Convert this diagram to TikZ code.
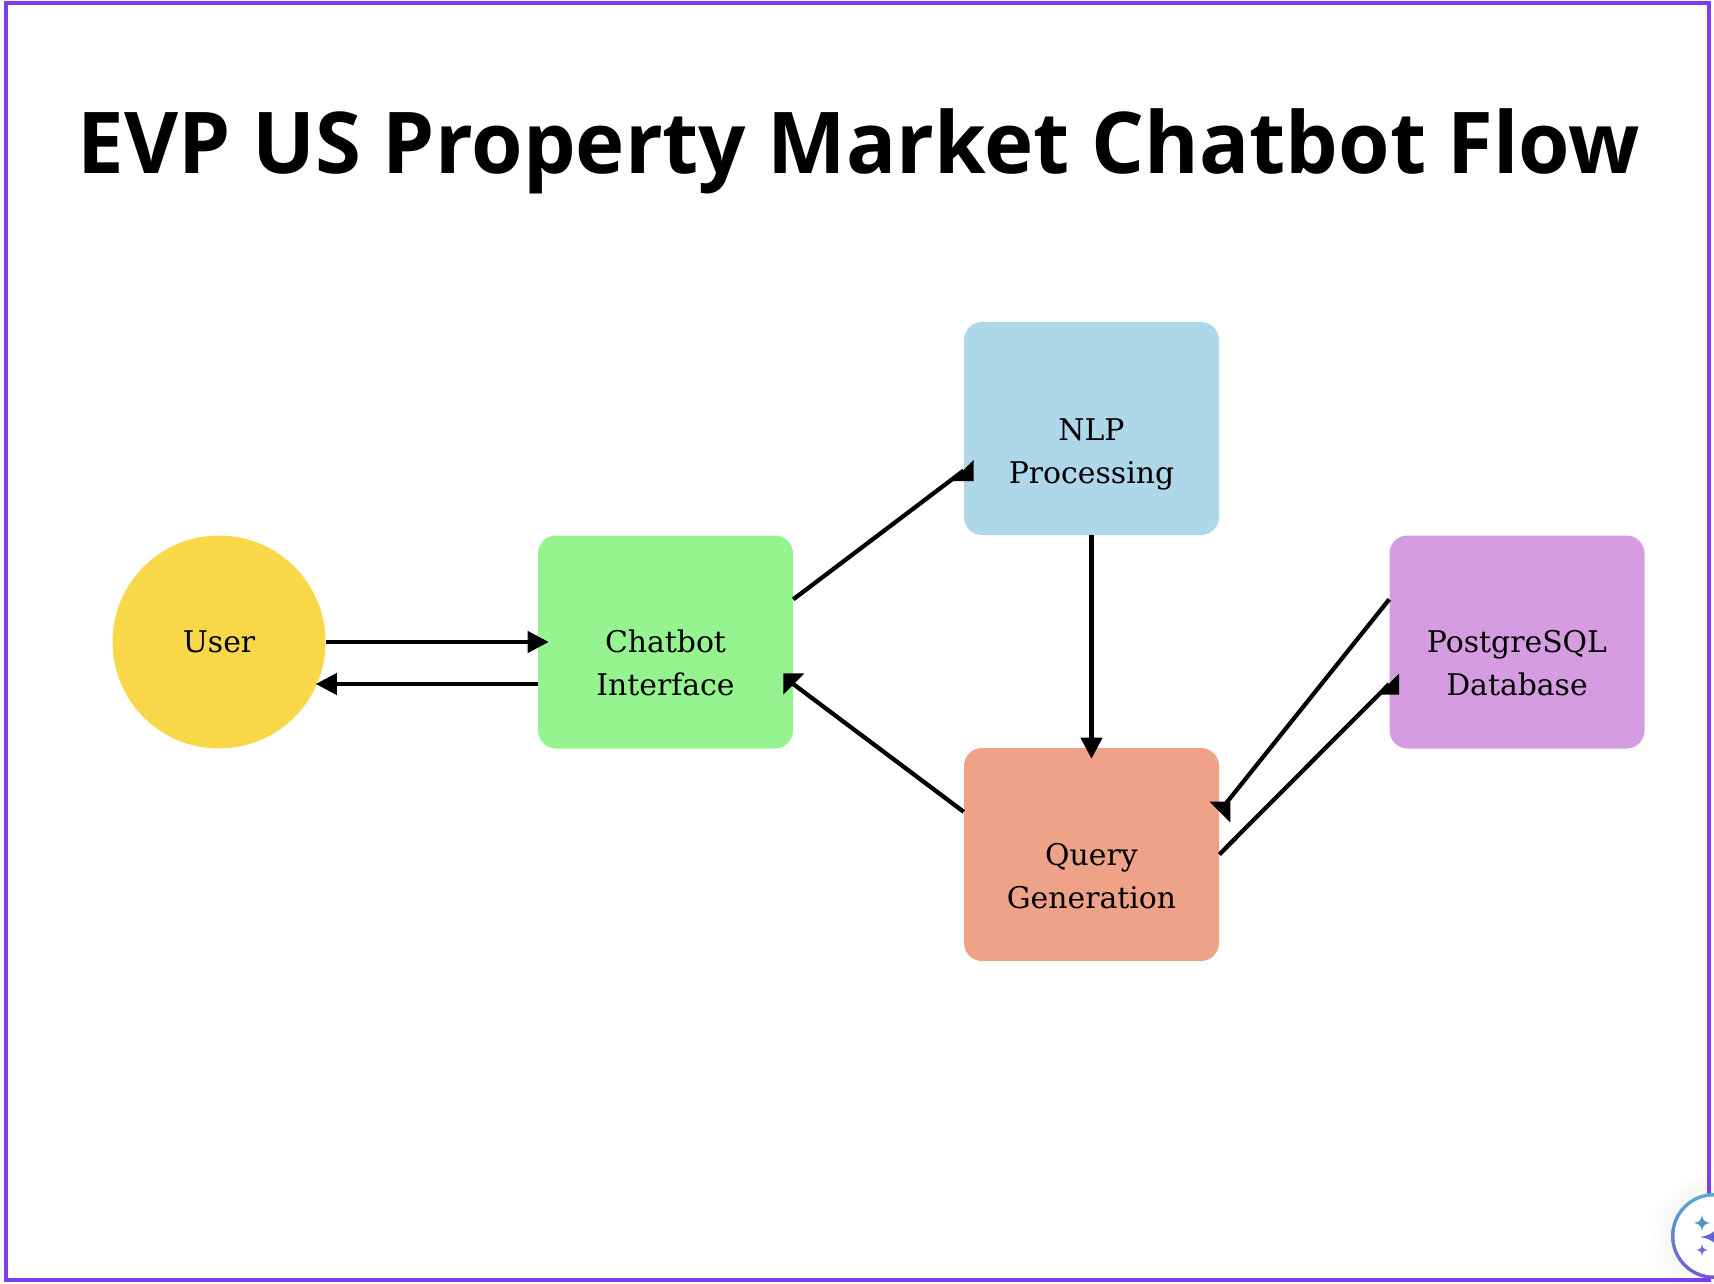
\documentclass[tikz,border=0pt]{standalone}
\usepackage{fontspec}
\setmainfont{DejaVu Serif}
\newfontfamily\titlefont[FakeStretch=0.976]{Open Sans}
\usetikzlibrary{arrows.meta,calc}
\definecolor{frameviolet}{HTML}{7C3FF0}
\definecolor{useryellow}{HTML}{F8D748}
\definecolor{chatgreen}{HTML}{95F390}
\definecolor{nlpblue}{HTML}{AED7E9}
\definecolor{querysalmon}{HTML}{EEA287}
\definecolor{dbpurple}{HTML}{D69CE2}
\definecolor{ringtop}{RGB}{86,172,208}
\definecolor{ringbottom}{RGB}{112,88,216}
\definecolor{sparkA}{RGB}{82,146,190}
\definecolor{sparkB}{RGB}{112,104,216}
\definecolor{sparkC}{RGB}{96,100,208}
\tikzset{
  x=0.75pt,y=-0.75pt,
  box/.style={rectangle,rounded corners=13.5pt,minimum width=191.25pt,minimum height=159.75pt,inner sep=0pt,align=center,font=\fontsize{22.4pt}{32.3pt}\selectfont},
  link/.style={line width=3.2pt,draw=black},
  arrowed/.style={link,-{Triangle[length=15.75pt,width=15.75pt]}},
  headfill/.style={fill=black}
}
\begin{document}
\begin{tikzpicture}
\useasboundingbox (0,0) rectangle (1714,1284);
\fill[white] (0,0) rectangle (1714,1284);
% widget shadow
\begin{scope}
\clip (1600,1140) rectangle (1714,1284);
\shade[inner color=black!10,outer color=white] (1714,1236) circle[radius=66];
\end{scope}
% frame
\draw[frameviolet,line width=3pt] (6,3) rectangle (1709,1280);
% title
\node[font=\titlefont\bfseries\fontsize{64pt}{70pt}\selectfont,anchor=base] (title) at (859,174) {EVP US Property Market Chatbot Flow};
% nodes
\node[circle,fill=useryellow,minimum size=159.75pt,inner sep=0pt,font=\fontsize{22.4pt}{32.3pt}\selectfont] (user) at (219,642) {User};
\node[box,fill=chatgreen] (chat) at (665.5,642) {\mbox{}\\[16pt]Chatbot\\Interface};
\node[box,fill=nlpblue] (nlp) at (1091.5,428.5) {\mbox{}\\[23pt]NLP\\Processing};
\node[box,fill=querysalmon] (query) at (1091.5,854.5) {\mbox{}\\[17pt]Query\\Generation};
\node[box,fill=dbpurple] (db) at (1517,642) {\mbox{}\\[16pt]PostgreSQL\\Database};
% connectors
\draw[arrowed] (user.east) -- ([xshift=8.25pt]chat.west);
\draw[arrowed] ([yshift=-31.5pt]chat.west) -- ([yshift=-31.5pt,xshift=-7.5pt]chat.west -| user.east);
\draw[arrowed] (nlp.south) -- ([yshift=-8.25pt]query.north);
\draw[link] ([yshift=32pt]chat.east) -- ([yshift=-31.5pt]nlp.west);
\draw[link] ([yshift=32pt]query.west) -- ([yshift=-31.5pt]chat.east);
\draw[link] ([yshift=32pt]db.west) -- ([xshift=5.25pt,yshift=38.6pt]query.east);
\draw[link] (query.east) -- ([yshift=-31.5pt]db.west);
% misrotated heads
\fill[headfill] ([xshift=7.5pt,yshift=-23.6pt]nlp.west) -- ([xshift=7.5pt,yshift=-39.4pt]nlp.west) -- ([xshift=-8.25pt,yshift=-39.4pt]nlp.west) -- cycle;
\fill[headfill] ([xshift=-7.5pt,yshift=-23.6pt]chat.east) -- ([xshift=8.25pt,yshift=-23.6pt]chat.east) -- ([xshift=-7.5pt,yshift=-39.4pt]chat.east) -- cycle;
\fill[headfill] ([xshift=-7.5pt,yshift=39.75pt]query.east) -- ([xshift=8.25pt,yshift=39.75pt]query.east) -- ([xshift=8.25pt,yshift=24pt]query.east) -- cycle;
\fill[headfill] ([xshift=7.5pt,yshift=-23.6pt]db.west) -- ([xshift=7.5pt,yshift=-39.4pt]db.west) -- ([xshift=-8.25pt,yshift=-39.4pt]db.west) -- cycle;
% widget
\begin{scope}
\clip (1600,1140) rectangle (1714,1284);
\shade[top color=ringtop,bottom color=ringbottom] (1714,1236) circle[radius=43];
\fill[white] (1714,1236) circle[radius=39.5];
\fill[sparkA] (1702,1215) .. controls (1703,1220.5) and (1704.5,1222) .. (1710,1223) .. controls (1704.5,1224) and (1703,1225.5) .. (1702,1231) .. controls (1701,1225.5) and (1699.5,1224) .. (1694,1223) .. controls (1699.5,1222) and (1701,1220.5) .. (1702,1215) -- cycle;
\fill[sparkB] (1702,1244) .. controls (1702.6,1248) and (1703.5,1249.4) .. (1708,1250) .. controls (1703.5,1250.6) and (1702.6,1252) .. (1702,1256) .. controls (1701.4,1252) and (1700.5,1250.6) .. (1696,1250) .. controls (1700.5,1249.4) and (1701.4,1248) .. (1702,1244) -- cycle;
\fill[sparkC] (1722,1213) .. controls (1720,1228) and (1714,1235) .. (1700,1237) .. controls (1714,1239) and (1720,1246) .. (1722,1261) -- (1722,1237) -- cycle;
\end{scope}
\end{tikzpicture}
\end{document}
